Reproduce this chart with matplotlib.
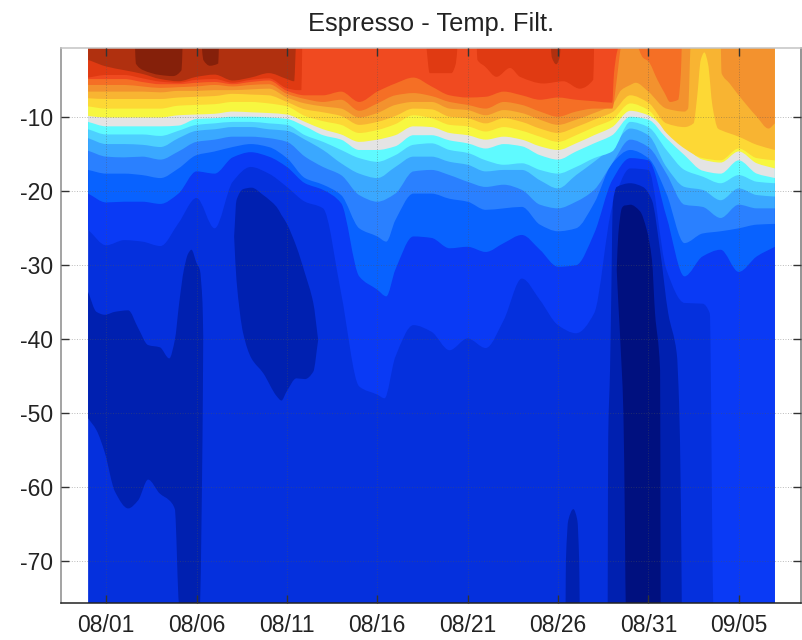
import matplotlib
matplotlib.use("Agg")
import matplotlib.pyplot as plt
from matplotlib.patches import PathPatch
from matplotlib.path import Path

plt.rcParams["font.family"] = ["Liberation Sans", "DejaVu Sans"]
plt.rcParams["axes.unicode_minus"] = False

# days since 08/01
days = list(range(-1, 38))
tick_days = [0, 5, 10, 15, 20, 25, 30, 35]
tick_labels = ["08/01", "08/06", "08/11", "08/16", "08/21", "08/26", "08/31", "09/05"]
depth_ticks = [-10, -20, -30, -40, -50, -60, -70]

# isotherm depths, warm to cold
iso_a = [-9.8, -10, -10, -10, -10, -9.7, -9.6, -9.5, -9.2, -9.3, -9.4, -9.6, -10.6, -11.6, -12.3, -13.3, -13, -12.4, -11.2, -11.3, -12.1, -12.4, -13, -12.6, -13, -13.9, -14.4, -13.5, -12.4, -11.3, -9.1, -9.7, -11.7, -13.9, -15.7, -16.1, -14.6, -16.2, -16.9]
iso_b = [-10.6, -11.2, -11.2, -11.2, -11.2, -11.1, -10.2, -10.1, -9.9, -9.9, -10, -10.2, -11.2, -12.4, -13, -14.4, -14.4, -13.9, -12.4, -12.4, -13.1, -13.5, -14.2, -13.6, -13.9, -15.1, -15.7, -14.6, -13.5, -12.4, -9.9, -10.3, -12.8, -15.1, -17.2, -17.6, -15.8, -17.6, -18.2]
iso_c = [-11.6, -12.3, -12.3, -12.3, -12.5, -11.8, -11, -10.8, -10.6, -10.6, -10.8, -11, -12.4, -13.3, -14.4, -15.5, -16, -15.1, -13.7, -13.5, -14.4, -14.8, -15.8, -16.4, -16.2, -17.1, -17.6, -16.7, -15.5, -14.6, -10.6, -11.3, -14.4, -17.1, -18, -18.9, -17.8, -18.7, -18.9]
iso_d = [-12.8, -13.6, -13.6, -13.7, -14, -12.8, -11.8, -11.6, -11.3, -11.3, -11.6, -11.8, -13, -14.4, -16.2, -17.6, -18.2, -16.7, -15.3, -15.3, -16, -16.4, -17.3, -17.1, -17.1, -18.5, -19.6, -17.8, -16, -14, -11.5, -12.4, -16.7, -19.4, -19.8, -21.2, -19.6, -20.5, -20.7]
iso_e = [-14.5, -15.3, -15.4, -15.3, -15.7, -14.6, -13.3, -13, -12.6, -12.6, -12.8, -13.3, -15.3, -16.7, -17.8, -20.5, -21.4, -20.3, -17.3, -17.1, -17.8, -18.7, -19.4, -19.1, -19.8, -21.8, -22.3, -21.4, -19.8, -16.2, -13, -14, -17.6, -21.8, -22.1, -23.6, -21.8, -22.3, -22.3]

days_fg = list(range(-1, 16)) + [15.5] + list(range(16, 38))
iso_f = [-17.1, -17.6, -17.6, -17.8, -18.2, -16.9, -15.1, -14.6, -14, -13.6, -14, -15.5, -18.2, -19.1, -20.5, -25, -26.1, -26.8, -23.9, -20.3, -20.3, -21, -21.4, -22.5, -22.3, -22.1, -24.5, -25.4, -25, -21.6, -16.2, -14.4, -15.5, -20.3, -27, -25.7, -25.4, -25, -24.5, -24.4]
iso_g = [-20.3, -21.5, -21.4, -21.4, -21.7, -20.3, -17.3, -17.6, -15.4, -14.7, -15.3, -16.7, -18.9, -19.8, -21.6, -31.5, -33.3, -34.2, -30.6, -26.1, -26.3, -27.7, -27.5, -28.2, -27, -25.9, -27.9, -30.2, -30, -25.7, -18.5, -15.5, -15.8, -23.4, -31.5, -28.8, -27.9, -30.9, -28.8, -27.5]

days_h = list(range(-1, 16)) + [15.4] + list(range(16, 34)) + [33.4, 33.6, 34, 37]
iso_h = [-25.2, -27.3, -26.6, -26.8, -27.4, -24.3, -20.9, -25, -18.7, -16.7, -17.6, -19.4, -21.4, -22.3, -33.8, -46.4, -47.5, -48, -42.4, -38.1, -39, -41.5, -39.9, -41.2, -37.4, -31.8, -34.7, -38.1, -39.2, -36.5, -22.1, -16.9, -17.1, -30.6, -35.1, -35.2, -36.5, -76, -76, -76]

warm_8 = [-8.5, -8.8, -8.8, -8.8, -8.8, -8.4, -8.3, -8.2, -7.9, -7.9, -8.1, -8.5, -9.8, -10.5, -11, -12.1, -11.7, -10.9, -9.7, -10.1, -11, -11.2, -11.9, -11.3, -11.8, -12.6, -13.3, -12.4, -11.3, -10.3, -8.1, -9, -12.1, -14.2, -15.5, -15.8, -14.2, -15.5, -15.8]

days_7 = list(range(-1, 33)) + [32.5, 32.7, 32.9, 33.1, 33.3, 33.55, 33.85, 34, 35, 36, 37]
warm_7 = [-7.4, -7.5, -7.5, -7.5, -7.5, -7.3, -7.2, -7.1, -6.8, -6.9, -7, -7.9, -8.9, -9.3, -9.8, -11, -10.6, -9.8, -8.8, -8.9, -9.9, -10.1, -10.8, -10.1, -10.6, -11.5, -12.1, -11.3, -10.3, -9.3, -7, -8, -10.8, -11.3, -10.8, -7.2, -2.2, -1.2, -2.7, -8.5, -11.5, -11.7, -12.6, -13.7, -14.4]

days_6 = list(range(-1, 29)) + [28.5, 29, 29.3, 30, 31, 32, 32.2, 32.35, 34, 34.05, 34.5, 35, 36, 36.65, 37]
warm_6 = [-6.5, -6.5, -6.5, -6.5, -6.6, -6.4, -6.4, -6.3, -6.3, -6.2, -6.1, -7.3, -8.1, -8.5, -8.8, -10, -9.4, -8.3, -7.9, -7.9, -8.8, -9, -9.7, -9, -9.4, -10.3, -11, -10.3, -9.4, -8.3, -6.3, -5.6, -5.3, -6.5, -8.8, -9.2, -8.8, 0, 0, -4, -5.4, -7, -9.9, -11.5, -10.8]

days_5 = list(range(-1, 29)) + [28.25, 28.4, 28.5]
warm_5 = [-5.6, -5.6, -5.6, -5.8, -6, -5.9, -5.8, -5.6, -5.8, -5.6, -5.5, -6.8, -7.5, -7.9, -7.6, -9.1, -8.1, -7, -6.7, -7.1, -7.9, -8.3, -8.8, -7.9, -8.3, -9.2, -9.9, -9.2, -8.8, -8.8, -4.9, -1.8, 0]
days_5b = [29.35, 29.7, 30, 30.5, 30.9, 31.2, 31.65, 31.8, 31.85]
warm_5b = [0, -1.9, -2.4, -4.9, -6.7, -7.9, -7.6, -4, 0]

days_4 = list(range(-1, 29)) + [28.1, 28.25, 28.4]
warm_4 = [-4.8, -4.8, -4.8, -5.2, -5.5, -5.5, -5.3, -5.2, -5.5, -5.2, -5, -6.4, -7, -7, -6.5, -7.9, -6.5, -5.4, -4.6, -5.8, -7, -7.3, -7.2, -6.5, -7, -7.6, -7.3, -7.6, -7.8, -8, -4, -1.3, 0]

days_3 = list(range(-1, 11)) + [10.6, 10.8, 10.85]
warm_3 = [-4.6, -4.25, -4.25, -4.7, -5.15, -5.3, -4.9, -4.8, -5.3, -4.9, -4.7, -6.05, -6.3, -6.3, 0]
days_3a = [17.7, 17.9, 18.5, 19.1, 19.35, 19.45]
warm_3a = [0, -4, -4, -4, -2.7, 0]
days_3b = [20.5, 20.54, 20.96, 21.6, 22.35, 22.9, 24.2, 25.3, 26.2, 26.95, 27]
warm_3b = [0, -2.2, -3.1, -4.5, -3.3, -4.5, -5.4, -5.1, -6.1, -4.9, 0]

days_2 = list(range(-1, 11)) + [10.4, 10.5]
warm_2 = [-2.2, -3.1, -3.6, -4.1, -4.8, -5.1, -4.5, -4.2, -5, -4.6, -4, -4.8, -5.1, 0]
days_2a = [24.6, 24.65, 24.9, 25.1, 25.15]
warm_2a = [0, -1.8, -2.8, -1.8, 0]

days_1a = [1.59, 1.64, 2.05, 2.97, 3.7, 4.17, 4.23]
warm_1a = [0, -2.7, -3.6, -4.25, -4.4, -3.6, 0]
days_1b = [5.28, 5.37, 5.74, 6.2, 6.24]
warm_1b = [0, -2.2, -3, -2.7, 0]

# cold cores: day, upper edge, lower edge
core1_days = [-1, -0.54, -0.07, 0.48, 1.22, 1.77, 2.32, 2.97, 3.49, 3.8, 4.04, 4.3, 4.54, 4.72, 5, 5.18, 5.33, 5.37]
core1_top = [-33.6, -36.3, -36.7, -36.3, -36.1, -38.5, -40.8, -41.1, -42.6, -40.1, -35.1, -30.6, -28.4, -27.9, -29.7, -30.6, -35.1, -39.7]
core1_bot = [-50.7, -52.3, -55.4, -60.6, -62.9, -61.8, -59, -60.9, -61.8, -63, -76, -76, -76, -76, -76, -76, -53.2, -39.7]
core2_days = [7.08, 7.21, 7.58, 8.04, 8.69, 9.43, 9.7, 9.98, 10.53, 11, 11.46, 11.73]
core2_top = [-26.1, -21.2, -19.7, -19.5, -20.5, -22.1, -23.2, -24.3, -27.5, -31.1, -35.1, -40.1]
core2_bot = [-26.1, -32, -39.2, -42.6, -44.6, -47.7, -48.3, -47.1, -45.3, -45.4, -44.4, -40.1]
core3_days = [25.42, 25.44, 25.57, 25.85, 26.07, 26.17, 26.2]
core3_top = [-76, -69.9, -64.5, -63, -64.5, -69.9, -76]
core4_days = [27.75, 27.78, 27.88, 27.97, 28.03, 28.25, 29, 29.7, 30.2, 30.65, 31.1, 31.57, 31.7, 31.8, 31.85]
core4_top = [-76, -53.2, -44.2, -30.6, -21.6, -19.4, -18.9, -19.4, -21.2, -28, -36.5, -41.9, -48.7, -62.2, -76]
core5_days = [28.25, 28.34, 28.53, 28.62, 28.71, 28.75, 29, 29.54, 29.91, 30.2, 30.37, 30.65, 30.68]
core5_top = [-30.6, -25.7, -22.3, -22, -21.9, -21.9, -21.8, -22.7, -25.2, -29.3, -36.5, -44.2, -76]
core5_bot = [-30.6, -35.2, -44.2, -50, -66.7, -76, -76, -76, -76, -76, -76, -76, -76]

c_grey = "#e4e4e4"
c_blues = ["#0a3af5", "#0862ff", "#2a80ff", "#3aa8ff", "#4dd0ff", "#5ffaff"]
c_warm = ["#f7f740", "#fdd835", "#f8b432", "#f3922e", "#f56f25", "#f04a20", "#e03a12", "#b0300f", "#85200a"]
c_deep = ["#0530dd", "#0020b0", "#00107f"]

fig = plt.figure(figsize=(8.03, 6.4), dpi=100)
ax = fig.add_axes([61 / 803, 1 - 603 / 640, 739.7 / 803, 555 / 640])


def tangents(x, y):
    # no overshoot between the read points
    s = [(y[i + 1] - y[i]) / (x[i + 1] - x[i]) for i in range(len(x) - 1)]
    out = [s[0]]
    for a, b in zip(s[:-1], s[1:]):
        out.append(0 if a * b <= 0 else 2 * a * b / (a + b))
    out.append(s[-1])
    return out


def curve(x, y):
    m = tangents(x, y)
    verts = []
    for i in range(len(x) - 1):
        h = (x[i + 1] - x[i]) / 3
        verts += [(x[i] + h, y[i] + m[i] * h), (x[i + 1] - h, y[i + 1] - m[i + 1] * h), (x[i + 1], y[i + 1])]
    return verts


def layer(x, lower, color, upper=None):
    # region between a smooth lower edge and a smooth upper edge (or the surface)
    verts = [(x[0], lower[0])] + curve(x, lower)
    codes = [Path.MOVETO] + [Path.CURVE4] * (len(verts) - 1)
    if upper is None:
        verts += [(x[-1], 1), (x[0], 1), (x[0], lower[0])]
        codes += [Path.LINETO] * 3
    else:
        back = curve(x[::-1], upper[::-1])
        verts += [(x[-1], upper[-1])] + back + [(x[0], lower[0])]
        codes += [Path.LINETO] + [Path.CURVE4] * len(back) + [Path.LINETO]
    ax.add_patch(PathPatch(Path(verts, codes), facecolor=color, edgecolor="none", linewidth=0))


layer(days, [-76] * len(days), c_deep[0])
layer(days_h, iso_h, c_blues[0])
layer(days_fg, iso_g, c_blues[1])
layer(days_fg, iso_f, c_blues[2])
layer(days, iso_e, c_blues[3])
layer(days, iso_d, c_blues[4])
layer(days, iso_c, c_blues[5])
layer(days, iso_b, c_grey)
layer(days, iso_a, c_warm[0])
layer(days, warm_8, c_warm[1])
layer(days_7, warm_7, c_warm[2])
layer(days_6, warm_6, c_warm[3])
layer(days_5, warm_5, c_warm[4])
layer(days_5b, warm_5b, c_warm[4])
layer(days_4, warm_4, c_warm[5])
layer(days_3, warm_3, c_warm[6])
layer(days_3a, warm_3a, c_warm[6])
layer(days_3b, warm_3b, c_warm[6])
layer(days_2, warm_2, c_warm[7])
layer(days_2a, warm_2a, c_warm[7])
layer(days_1a, warm_1a, c_warm[8])
layer(days_1b, warm_1b, c_warm[8])

layer(core1_days, core1_bot, c_deep[1], core1_top)
layer(core2_days, core2_bot, c_deep[1], core2_top)
layer(core3_days, [-76] * len(core3_days), c_deep[1], core3_top)
layer(core4_days, [-76] * len(core4_days), c_deep[1], core4_top)
layer(core5_days, core5_bot, c_deep[2], core5_top)

ax.set_xlim(-2.5, 38.43)
ax.set_ylim(-75.7, -0.6)
ax.set_xticks(tick_days)
ax.set_xticklabels(tick_labels)
ax.set_yticks(depth_ticks)
ax.tick_params(direction="in", length=5.8, width=1.0, top=True, right=True, labelsize=16.5, color="#333333", labelcolor="#222222")
ax.tick_params(axis="x", pad=8)
ax.tick_params(axis="y", pad=5.5)
ax.grid(True, linestyle=":", linewidth=0.7, color="#555555", alpha=0.4)
ax.set_axisbelow(False)
spine_colors = {"top": "#c4c4c4", "left": "#8a8a8a", "right": "#777777", "bottom": "#222222"}
for side, spine in ax.spines.items():
    spine.set_linewidth(1.1)
    spine.set_color(spine_colors[side])
ax.set_title("Espresso - Temp. Filt.", fontsize=18.4, pad=12, color="#222222")

fig.savefig("out.png", dpi=100)
